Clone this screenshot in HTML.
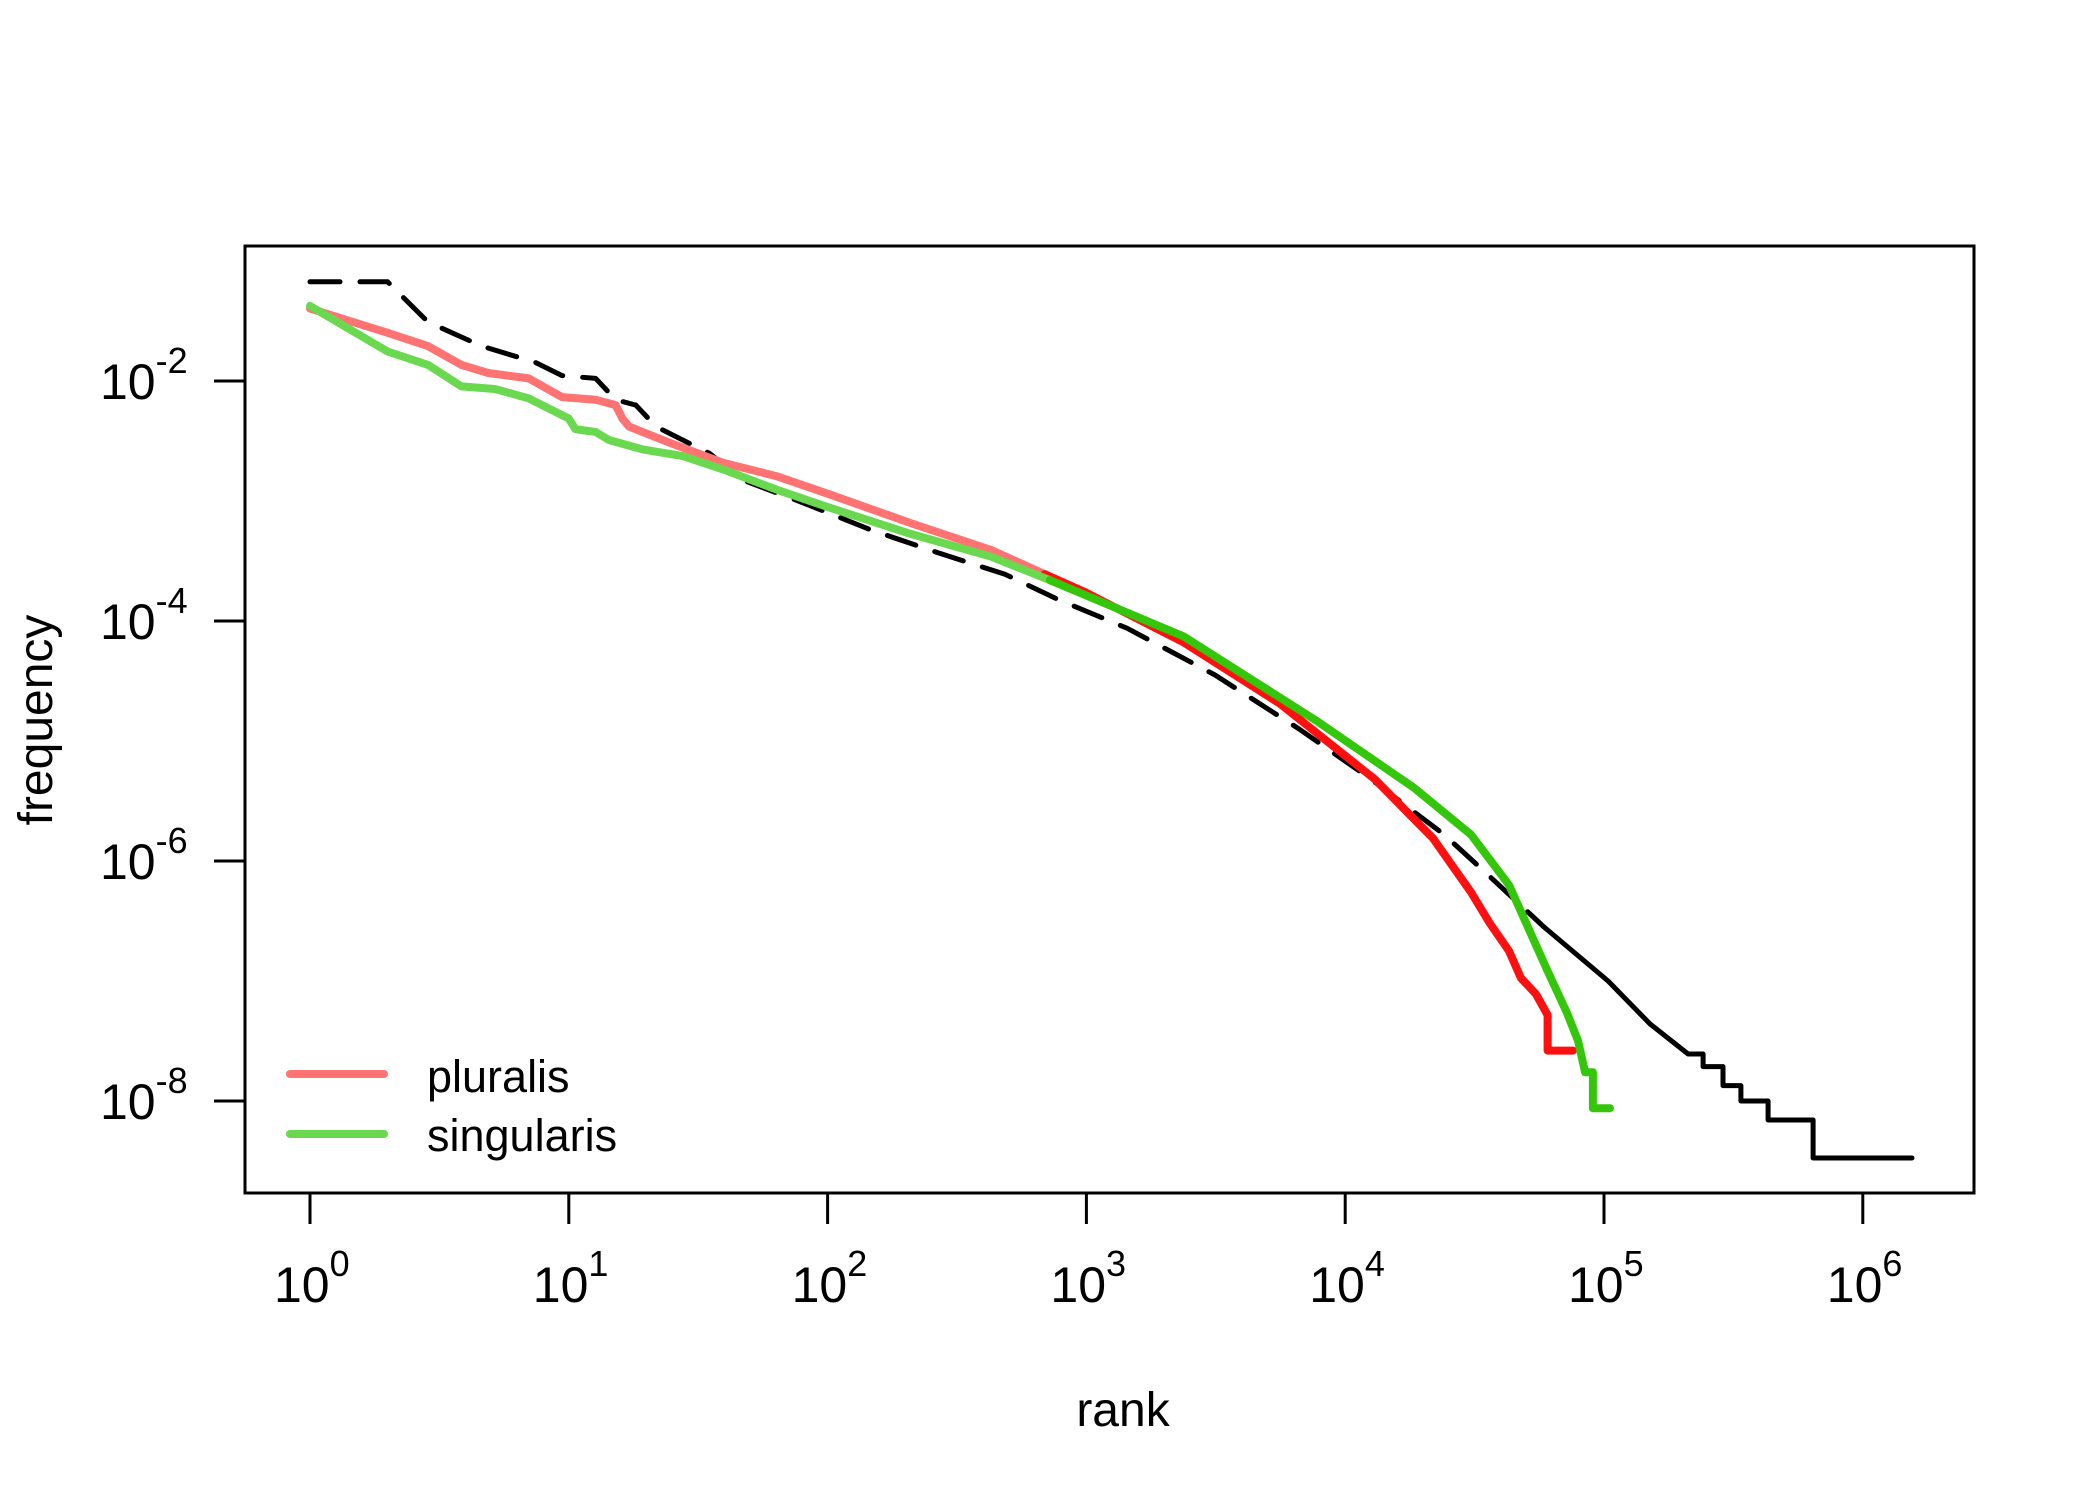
<!DOCTYPE html>
<html><head><meta charset="utf-8"><style>
html,body{margin:0;padding:0;background:#fff;}
svg{display:block;font-family:"Liberation Sans",Arial,sans-serif;}
</style></head><body>
<svg id="chart" width="2100" height="1500" viewBox="0 0 2100 1500" xmlns="http://www.w3.org/2000/svg">
<rect x="0" y="0" width="2100" height="1500" fill="#fff"/>
<g id="series"></g>
<rect x="245" y="246" width="1729" height="947" fill="none" stroke="#000" stroke-width="3"/>
<g id="axes"></g>
<text x="1123" y="1426" font-size="48" text-anchor="middle">rank</text>
<text transform="translate(52,720) rotate(-90)" font-size="48" text-anchor="middle">frequency</text>
<g>
<line x1="290" y1="1074" x2="384" y2="1074" stroke="#FF7373" stroke-width="8" stroke-linecap="round"/>
<text x="427" y="1092" font-size="45">pluralis</text>
<line x1="290" y1="1134" x2="384" y2="1134" stroke="#6AD94F" stroke-width="8" stroke-linecap="round"/>
<text x="427" y="1151" font-size="45">singularis</text>
</g>
</svg>
<script>
// data in log10 units (rank exponent, frequency exponent)
const xTicks = [0,1,2,3,4,5,6];
const yTicks = [-2,-4,-6,-8];
const allLogRank = [0,0.30,0.456,0.663,0.870,0.974,1.104,1.181,1.259,1.337,1.440,1.544,1.674,1.907,2.166,2.425,2.684,2.89,3.157,3.497,3.822,4.088,4.382,4.544,4.768];
const allLogFreq = [-1.173,-1.173,-1.508,-1.709,-1.844,-1.955,-1.978,-2.156,-2.201,-2.380,-2.492,-2.603,-2.827,-3.017,-3.240,-3.430,-3.609,-3.82,-4.06,-4.45,-4.90,-5.30,-5.78,-6.10,-6.55];
const allTailRank = [4.768,5.016,5.178,5.325];
const allTailFreq = [-6.55,-7.0,-7.358,-7.608];
const allStepRank = [5.325,5.383,5.460,5.529,5.634,5.808,6.190];
const allStepFreq = [-7.608,-7.713,-7.872,-8.0,-8.158,-8.475];
const plurRank = [0,0.30,0.456,0.585,0.689,0.845,0.974,1.104,1.181,1.207,1.233,1.285,1.389,1.596,1.803,2.0,2.321,2.632,2.839,3.0,3.377,3.748,4.115,4.339,4.486,4.559,4.633,4.679,4.737,4.782,4.782,4.880];
const plurFreq = [-1.397,-1.598,-1.709,-1.866,-1.933,-1.978,-2.134,-2.156,-2.201,-2.313,-2.380,-2.425,-2.514,-2.682,-2.793,-2.939,-3.184,-3.408,-3.609,-3.765,-4.18,-4.69,-5.32,-5.81,-6.26,-6.52,-6.75,-6.975,-7.108,-7.283,-7.58,-7.58];
const singRank = [0,0.30,0.456,0.585,0.715,0.845,1.0,1.026,1.104,1.155,1.285,1.440,1.596,1.803,2.0,2.321,2.632,2.859,3.377,3.895,4.266,4.486,4.633,4.782,4.857,4.900,4.927,4.957,4.957,5.023];
const singFreq = [-1.374,-1.754,-1.866,-2.045,-2.067,-2.145,-2.313,-2.402,-2.425,-2.492,-2.570,-2.626,-2.737,-2.905,-3.050,-3.274,-3.464,-3.66,-4.13,-4.84,-5.39,-5.78,-6.20,-6.917,-7.267,-7.5,-7.76,-7.76,-8.06,-8.06];

const NS = "http://www.w3.org/2000/svg";
function X(l){ return 310 + l*258.8; }
function Y(l){ return 381 - (l+2)*120; }
function pathD(xs, ys){ return xs.map((v,i)=>(i?'L':'M')+X(v).toFixed(1)+' '+Y(ys[i]).toFixed(1)).join(' '); }
function mk(tag, attrs, parent){ const e=document.createElementNS(NS,tag); for(const k in attrs) e.setAttribute(k,attrs[k]); parent.appendChild(e); return e; }
function split(xs, ys, cut){ const a=[[],[]], b=[[],[]]; xs.forEach((v,i)=>{ if(v<=cut){a[0].push(v);a[1].push(ys[i]);} if(v>=cut-0.35){b[0].push(v);b[1].push(ys[i]);} }); return [a,b]; }

const g = document.getElementById('series');
const all1 = mk('path',{d:pathD(allLogRank,allLogFreq),fill:'none',stroke:'#000','stroke-width':5,'stroke-dasharray':'30 20','stroke-linecap':'round','stroke-linejoin':'round'},g);


let sx=allTailRank.slice(), sy=allTailFreq.slice();
for(let i=0;i<allStepFreq.length;i++){ sx.push(allStepRank[i]); sy.push(allStepFreq[i]); sx.push(allStepRank[i+1]); sy.push(allStepFreq[i]); }
const all2 = mk('path',{d:pathD(sx,sy),fill:'none',stroke:'#000','stroke-width':5,'stroke-linecap':'round','stroke-linejoin':'round'},g);



const [pa,pb] = split(plurRank,plurFreq,3.0);
const p1 = mk('path',{d:pathD(pa[0],pa[1]),fill:'none',stroke:'#FF7373','stroke-width':8,'stroke-linecap':'round','stroke-linejoin':'round'},g);


const p2 = mk('path',{d:pathD(pb[0],pb[1]),fill:'none',stroke:'#FF1010','stroke-width':8,'stroke-linecap':'round','stroke-linejoin':'round'},g);



const [sa,sb] = split(singRank,singFreq,3.0);
const s1 = mk('path',{d:pathD(sa[0],sa[1]),fill:'none',stroke:'#6AD94F','stroke-width':8,'stroke-linecap':'round','stroke-linejoin':'round'},g);


const s2 = mk('path',{d:pathD(sb[0],sb[1]),fill:'none',stroke:'#33C60A','stroke-width':8,'stroke-linecap':'round','stroke-linejoin':'round'},g);



const ax = document.getElementById('axes');
xTicks.forEach(t=>{
  const l = mk('line',{x1:X(t),y1:1193,x2:X(t),y2:1224,stroke:'#000','stroke-width':3},ax);
  
  
  const tx = mk('text',{x:X(t)-36,y:1302,'font-size':50},ax);
  
  
  tx.innerHTML = '10<tspan dy="-26" font-size="36">'+t+'</tspan>';
});
yTicks.forEach(t=>{
  const l = mk('line',{x1:214,y1:Y(t),x2:245,y2:Y(t),stroke:'#000','stroke-width':3},ax);
  
  
  const tx = mk('text',{x:100,y:Y(t)+18,'font-size':50},ax);
  
  
  tx.innerHTML = '10<tspan dy="-26" font-size="36">'+t+'</tspan>';
});
</script>
</body></html>
